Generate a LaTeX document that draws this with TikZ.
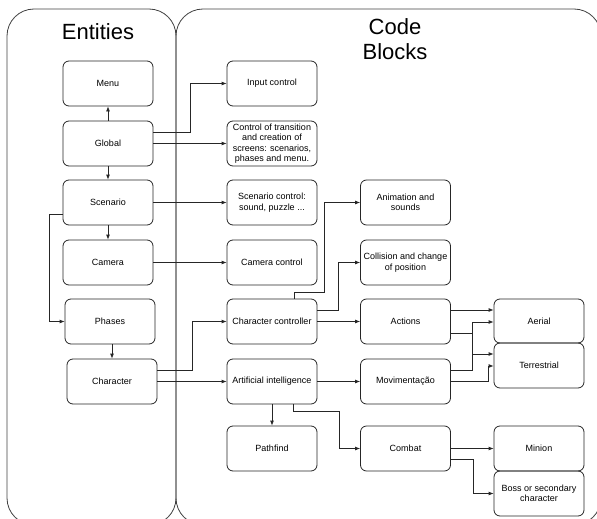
\documentclass[tikz,border=0pt]{standalone}
\usepackage{fontspec}
\setmainfont{Liberation Sans}
\usetikzlibrary{arrows.meta}
\tikzset{
  box/.style={draw=black!85, line width=0.8pt, rounded corners=6pt, minimum width=90pt, minimum height=45pt,
    align=center, inner sep=1pt, font=\fontsize{9}{10.5}\selectfont},
  arr/.style={draw=black!85, line width=0.8pt, -{Latex[length=5pt,width=4pt]}},
  container/.style={draw=black!75, line width=0.8pt, rounded corners=27pt},
  title/.style={align=center, font=\fontsize{22}{25}\selectfont}
}
\begin{document}
\begin{tikzpicture}[x=1pt,y=-1pt]
\useasboundingbox (0,0) rectangle (597,519);
\begin{scope}
\clip (0,0) rectangle (597,519);
\draw[container] (7,9) rectangle (176,525);
\draw[container] (176,9) rectangle (601,525);
\end{scope}
\node[title] (tEnt) at (98,32) {Entities};
\node[title] (tCode) at (395,39) {Code\\Blocks};
% entities
\node[box] (Menu) at (108,83.5) {Menu};
\node[box] (Global) at (108,143.5) {Global};
\node[box] (Scenario) at (108,202.5) {Scenario};
\node[box] (Camera) at (108,262.5) {Camera};
\node[box] (Phases) at (110,321.5) {Phases};
\node[box] (Character) at (112,381.5) {Character};
% column 1
\node[box] (Input) at (272,83.5) {Input control};
\node[box] (Ctrl) at (272,143.5) {Control of transition\\and creation of\\screens: scenarios,\\phases and menu.};
\node[box] (ScCtrl) at (272,202.5) {Scenario control:\\sound, puzzle ...};
\node[box] (CamCtrl) at (272,262.5) {Camera control};
\node[box] (CharCtrl) at (272,321.5) {Character controller};
\node[box] (AI) at (272,381.5) {Artificial intelligence};
\node[box] (Path) at (272,448.5) {Pathfind};
% column 2
\node[box] (Anim) at (405.5,202.5) {Animation and\\sounds};
\node[box] (Coll) at (405.5,262.5) {Collision and change\\of position};
\node[box] (Actions) at (405.5,321.5) {Actions};
\node[box] (Mov) at (405.5,381.5) {Movimentação};
\node[box] (Combat) at (405.5,448.5) {Combat};
% column 3
\node[box, minimum height=44pt] (Aerial) at (539,321) {Aerial};
\node[box] (Terr) at (539,365.5) {Terrestrial};
\node[box] (Minion) at (539,448.5) {Minion};
\node[box] (Boss) at (539,493.5) {Boss or secondary\\character};
% connectors
\draw[arr] (Global) -- (Menu);
\draw[arr] (Global) -- (Scenario);
\draw[arr] (Scenario) -- (Camera);
\draw[arr] (Scenario.west |- 0,214) -- (49,214) |- (Phases.west);
\draw[arr] (Character.north |- Phases.south) -- (Character.north);
\draw[arr] (Global.east |- 0,132) -- (190,132) |- (Input.west);
\draw[arr] (Global) -- (Ctrl);
\draw[arr] (Scenario) -- (ScCtrl);
\draw[arr] (Camera) -- (CamCtrl);
\draw[arr] (Character.east |- 0,370) -- (192,370) |- (CharCtrl.west);
\draw[arr] (Character) -- (AI);
\draw[arr] (CharCtrl.north -| 294,0) -- (294,292) -- (324,292) |- (Anim.west);
\draw[arr] (CharCtrl.east |- 0,310) -- (338,310) |- (Coll.west);
\draw[arr] (CharCtrl) -- (Actions);
\draw[arr] (Path.north |- AI.south) -- (Path.north);
\draw[arr] (AI) -- (Mov);
\draw[arr] (AI.south -| 293,0) -- (293,411) -- (339,411) |- (Combat.west);
\draw[arr] (Actions.east |- 0,310) -- (Aerial.west |- 0,310);
\draw[arr] (Actions.east |- 0,333) -- (472,333) -- (472,354) -- (Terr.west |- 0,354);
\draw[arr] (Mov.east |- 0,370) -- (472,370) -- (472,322) -- (Aerial.west |- 0,322);
\draw[arr] (Mov.east) -- (488,381.5) -- (488,366) -- (Terr.west |- 0,366);
\draw[arr] (Combat) -- (Minion);
\draw[arr] (Combat.east |- 0,459) -- (473,459) |- (Boss.west);
\end{tikzpicture}
\end{document}
